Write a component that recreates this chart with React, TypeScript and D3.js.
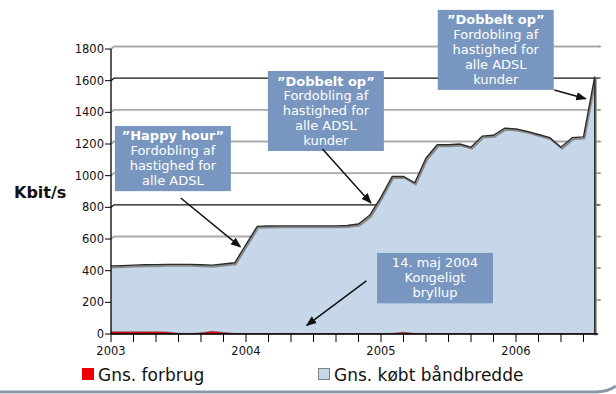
import { scaleLinear, area, line, range } from "d3";

// month index 0 = Jan 2003
const months = range(0, 44);
const boughtBandwidth = [
  430, 432, 435, 437, 438, 440, 440, 440, 437, 435, 442, 450,
  565, 680, 682, 683, 683, 683, 683, 683, 683, 685, 695, 750,
  865, 995, 995, 955, 1110, 1195, 1195, 1200, 1180, 1250, 1255, 1300,
  1295, 1280, 1260, 1240, 1180, 1240, 1245, 1625
];
const usage = [
  15, 15, 15, 15, 15, 13, 5, 3, 8, 18, 10, 4,
  3, 3, 3, 3, 4, 3, 3, 3, 3, 3, 3, 3,
  3, 4, 11, 4, 3, 3, 3, 3, 3, 3, 3, 3,
  3, 3, 3, 3, 3, 3, 3, 3
];
const yTicks = [0, 200, 400, 600, 800, 1000, 1200, 1400, 1600, 1800];
const darkGrid = [800, 1600];
const yearLabels = ["2003", "2004", "2005", "2006"];
const xTicks = range(0, 44, 2);

const annotations = [
  { cx: 5.5, top: 1314, title: "\u201dHappy hour\u201d", lines: ["Fordobling af", "hastighed for", "alle ADSL"], from: [6.2, 859], to: [11.5, 550] },
  { cx: 19.1, top: 1661, title: "\u201dDobbelt op\u201d", lines: ["Fordobling af", "hastighed for", "alle ADSL", "kunder"], from: [18.8, 1169], to: [23.1, 828] },
  { cx: 34.2, top: 2047, title: "\u201dDobbelt op\u201d", lines: ["Fordobling af", "hastighed for", "alle ADSL", "kunder"], from: [39.4, 1541], to: [42.2, 1486] },
  { cx: 28.8, top: 512, title: null, lines: ["14. maj 2004", "Kongeligt", "bryllup"], from: [22.7, 335], to: [17.4, 55] }
];

const font = "'DejaVu Sans', Verdana, sans-serif";
const areaBlue = "#c6d7e9";
const boxBlue = "#7896c0";

export default function App() {
  const x = scaleLinear().domain([0, 36]).range([111, 516]);
  const y = scaleLinear().domain([0, 1800]).range([334, 49]);
  const right = x(43.3);

  const data = months.map((m, i) => ({ m, b: boughtBandwidth[i], u: usage[i] }));
  const blueArea = area<any>().x(d => x(d.m)).y0(y(0)).y1(d => y(d.b));
  const redArea = area<any>().x(d => x(d.m)).y0(y(0)).y1(d => y(d.u));
  const topLine = line<any>().x(d => x(d.m)).y(d => y(d.b));
  const last = data[data.length - 1];
  const outline = topLine(data) + `L${x(last.m)},${y(0)}`;

  return (
    <svg width={616} height={394} style={{ position: "absolute", left: 0, top: 0, fontFamily: font }}>
      <defs>
        <marker id="ah" viewBox="0 0 10 10" refX="9" refY="5" markerWidth="7" markerHeight="7" orient="auto">
          <path d="M0,1 L10,5 L0,9 Z" fill="#111" />
        </marker>
      </defs>

      {/* grid */}
      {yTicks.filter(t => t > 0).map(t => {
        const dark = darkGrid.includes(t);
        return (
          <path key={t} d={`M${x(0)},${y(t)} L${x(0) + 3},${y(t) - 2.5} L${right + 2},${y(t) - 2.5}`}
            fill="none" stroke={dark ? "#111" : "#a9a9a9"} strokeWidth={dark ? 1.2 : 1.8} />
        );
      })}
      {yTicks.filter(t => t > 0).map(t => (
        <line key={"r" + t} x1={right} x2={right + 3} y1={y(t) - 2.5} y2={y(t) - 2.5} stroke="#888" />
      ))}

      {/* areas */}
      <path d={blueArea(data) || ""} fill={areaBlue} />
      <path d={outline} fill="none" stroke="#8a8a8a" strokeWidth={2} transform="translate(1,1.5)" />
      <path d={outline} fill="none" stroke="#2a2a2a" strokeWidth={1.4} />
      <path d={redArea(data) || ""} fill="#ee0000" stroke="#555" strokeWidth={0.5} />

      {/* y axis */}
      <line x1={x(0)} x2={x(0)} y1={y(1800)} y2={y(0)} stroke="#000" strokeWidth={1.3} />
      {yTicks.map(t => (
        <g key={t}>
          <line x1={x(0) - 6} x2={x(0)} y1={y(t)} y2={y(t)} stroke="#000" />
          <text x={x(0) - 7} y={y(t) + 4} textAnchor="end" fontSize={11.5} fill="#111">{t}</text>
        </g>
      ))}
      <text x={14} y={198} fontSize={16} fontWeight="bold" fill="#111">Kbit/s</text>

      {/* x axis */}
      <line x1={x(0)} x2={right} y1={y(0)} y2={y(0)} stroke="#000" strokeWidth={1.3} />
      {xTicks.map(t => (
        <line key={t} x1={x(t)} x2={x(t)} y1={y(0)} y2={y(0) + 8} stroke="#000" />
      ))}
      {yearLabels.map((l, i) => (
        <text key={l} x={x(i * 12)} y={355} textAnchor="middle" fontSize={11.5} fill="#111">{l}</text>
      ))}

      {/* annotations */}
      {annotations.map((a, i) => {
        const rows = a.title ? [a.title, ...a.lines] : a.lines;
        const w = 116;
        const h = rows.length * 14.8 + 6;
        const cx = x(a.cx);
        const top = y(a.top);
        return (
          <g key={i}>
            <rect x={cx - w / 2} y={top} width={w} height={h} fill={boxBlue} />
            {rows.map((r, j) => (
              <text key={j} x={cx} y={top + 14.5 + j * 14.8} textAnchor="middle" fontSize={13}
                fill="#fff" fontWeight={a.title && j === 0 ? "bold" : "normal"}>{r}</text>
            ))}
            <line x1={x(a.from[0])} y1={y(a.from[1])} x2={x(a.to[0])} y2={y(a.to[1])}
              stroke="#111" strokeWidth={1.5} markerEnd="url(#ah)" />
          </g>
        );
      })}

      {/* legend */}
      <rect x={82} y={368} width={12} height={12} fill="#ee0000" />
      <text x={98} y={381} fontSize={17} fill="#111">Gns. forbrug</text>
      <rect x={318.5} y={368.5} width={11} height={11} fill={areaBlue} stroke="#808080" />
      <text x={334} y={381} fontSize={17} fill="#111">Gns. købt båndbredde</text>

      {/* bottom rule */}
      <path d="M0,392 L596,392 Q608,392 616,386" fill="none" stroke="#8b97a8" strokeWidth={3} />
    </svg>
  );
}
